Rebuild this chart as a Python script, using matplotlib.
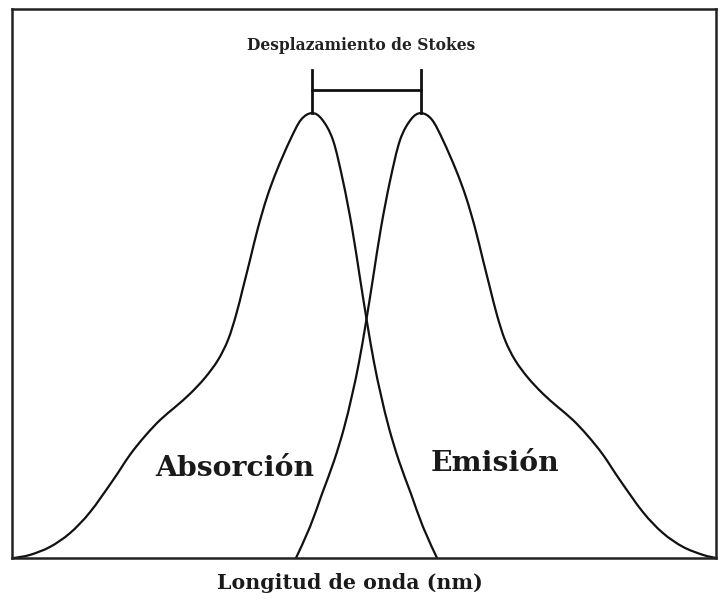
import matplotlib
matplotlib.use('Agg')
import matplotlib.pyplot as plt
import numpy as np
from matplotlib.path import Path
from matplotlib.patches import PathPatch

# absorption band (arbitrary wavelength units, normalised intensity)
abs_wl = [0.28, 2.56, 5.40, 8.24, 11.08, 14.35, 16.76, 18.89, 21.02, 23.15, 25.28, 27.41,
          29.26, 30.68, 31.82, 32.81, 33.81, 34.94, 36.22, 37.64, 39.49, 41.05,
          42.61, 44.03, 45.60, 47.02, 48.30, 49.43, 50.43, 51.42,
          52.41, 53.55, 54.97, 56.68, 58.38, 60.37]
abs_int = [0.0, 0.007, 0.025, 0.056, 0.103, 0.175, 0.232, 0.274, 0.310, 0.339, 0.369, 0.405,
           0.445, 0.490, 0.546, 0.607, 0.670, 0.742, 0.811, 0.872, 0.939, 0.985,
           1.0, 0.986, 0.939, 0.847, 0.742, 0.629, 0.530, 0.440,
           0.366, 0.292, 0.218, 0.144, 0.070, 0.0]

# emission band
em_wl = [40.34, 42.33, 44.03, 45.74, 47.16, 48.30, 49.29, 50.28, 51.28, 52.41, 53.69,
         55.11, 56.68, 58.10, 59.66, 61.22, 63.07, 64.49,
         65.77, 66.90, 67.90, 68.89, 70.03, 71.45, 73.30, 75.43, 77.56, 79.69, 81.82,
         83.95, 86.36, 89.63, 92.47, 95.31, 98.15, 100.0]
em_int = [0.0, 0.070, 0.144, 0.218, 0.292, 0.366, 0.440, 0.530, 0.629, 0.742, 0.847,
          0.939, 0.986, 1.0, 0.985, 0.939, 0.872, 0.811,
          0.742, 0.670, 0.607, 0.546, 0.490, 0.445, 0.405, 0.369, 0.339, 0.310, 0.274,
          0.232, 0.175, 0.103, 0.056, 0.025, 0.007, 0.0]

band_labels = ['Absorción', 'Emisión']
band_label_pos = [(31.7, 0.202), (68.6, 0.213)]
shift_label = 'Desplazamiento de Stokes'
xlabel = 'Longitud de onda (nm)'

serif = ['DejaVu Serif']
ink = '#111111'


def smooth_curve(xs, ys, sx=7.04, sy=445.0, **kw):
    # Catmull-Rom through the points, drawn as cubic bezier segments
    p = np.column_stack([np.asarray(xs) * sx, np.asarray(ys) * sy])
    verts = [p[0]]
    codes = [Path.MOVETO]
    for i in range(len(p) - 1):
        p0 = p[i - 1] if i > 0 else p[i]
        p3 = p[i + 2] if i + 2 < len(p) else p[i + 1]
        c1 = p[i] + (p[i + 1] - p0) / 6
        c2 = p[i + 1] - (p3 - p[i]) / 6
        verts += [c1, c2, p[i + 1]]
        codes += [Path.CURVE4] * 3
    v = np.array(verts) / [sx, sy]
    return PathPatch(Path(v, codes), fill=False, **kw)


fig = plt.figure(figsize=(7.2, 6.02), dpi=100)
ax = fig.add_axes([12 / 720, 44 / 602, 704 / 720, 549 / 602])

ax.add_patch(smooth_curve(abs_wl, abs_int, edgecolor=ink, lw=1.6, capstyle='round'))
ax.add_patch(smooth_curve(em_wl, em_int, edgecolor=ink, lw=1.6, capstyle='round'))

# Stokes shift bracket between the two maxima
p_abs = abs_wl[int(np.argmax(abs_int))]
p_em = em_wl[int(np.argmax(em_int))]
top = 1.097
mid = 1.052
ax.plot([p_abs, p_abs], [1.0, top], color=ink, lw=2)
ax.plot([p_em, p_em], [1.0, top], color=ink, lw=2)
ax.plot([p_abs, p_em], [mid, mid], color=ink, lw=2)
ax.text((p_abs + p_em) / 2 - 0.8, 1.153, shift_label, ha='center', va='center',
        fontsize=11.2, fontweight='semibold', family=serif, color='#222222')

for lab, (x, y) in zip(band_labels, band_label_pos):
    ax.text(x, y, lab, ha='center', va='center', fontsize=20.3,
            fontweight='bold', family=serif, color='#1a1a1a')

ax.set_xlim(0, 100)
ax.set_ylim(0, 1.234)
ax.set_xticks([])
ax.set_yticks([])
for s in ax.spines.values():
    s.set_linewidth(1.8)
    s.set_color('#222222')

fig.text(350 / 720, 19 / 602, xlabel, ha='center', va='center', fontsize=14.8,
         family=serif, fontweight='semibold', color='#1a1a1a')

fig.savefig('out.png', dpi=100)
